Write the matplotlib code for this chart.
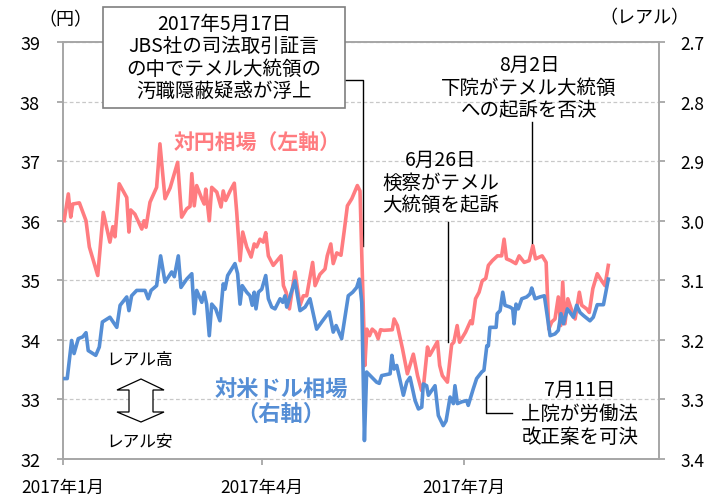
import matplotlib
matplotlib.use("Agg")
import matplotlib.pyplot as plt
from matplotlib.patches import Rectangle, Polygon
from matplotlib.lines import Line2D
import pandas as pd

plt.rcParams['font.family'] = ['Noto Sans CJK JP', 'DejaVu Sans']

# ---------------- data (days since 2017-01-01, values) ----------------
jpy_day = [0.5, 2.4, 3.5, 4.4, 7.4, 10.4, 11.9, 15.7, 18.2, 21.2,
           22.5, 23.5, 25.4, 28.8, 29.8, 30.6, 32.5, 35.6, 36.6, 37.5,
           39.3, 42.3, 43.8, 46.1, 48.4, 51.8, 53.6, 55.9, 57.4, 58.2,
           59.3, 60.4, 62.7, 63.8, 64.5, 66.1, 67.2, 69.5, 71.4, 72.4,
           73.5, 75.5, 77.4, 78.5, 80.0, 81.2, 83.0, 85.0, 86.4, 87.5,
           89.0, 90.5, 91.6, 92.8, 95.0, 98.5, 99.6, 100.8, 102.3, 104.8,
           107.1, 108.6, 110.1, 112.8, 113.9, 116.1, 118.4, 119.4, 121.0, 122.1,
           123.7, 125.6, 127.0, 128.5, 130.5, 133.0, 134.2, 136.4, 137.3, 138.5,
           139.7, 141.2, 142.4, 143.5, 145.0, 148.8, 149.6, 151.1, 153.4, 155.6,
           158.3, 160.2, 162.0, 162.9, 164.7, 165.7, 169.2, 170.2, 171.4, 173.7,
           175.6, 176.6, 178.1, 179.2, 181.9, 184.2, 184.9, 186.4, 188.0, 189.4,
           191.0, 192.2, 194.0, 196.3, 198.2, 199.3, 200.4, 202.3, 204.6, 206.1,
           208.4, 210.6, 212.3, 213.5, 216.5, 218.3, 219.5, 220.8, 222.3, 223.8,
           224.9, 225.8, 226.8, 228.1, 229.9, 231.4, 233.3, 234.4, 236.6, 237.8,
           239.4, 241.4, 243.4, 244.9, 246.4]
jpy_val = [36.00, 36.45, 36.06, 36.28, 36.30, 36.00, 35.56, 35.08, 36.14, 35.64,
           35.90, 35.73, 36.62, 36.39, 35.81, 36.18, 36.11, 35.86, 36.00, 35.89,
           36.31, 36.56, 37.29, 36.37, 36.55, 36.98, 36.06, 36.20, 36.24, 36.79,
           36.25, 36.59, 36.37, 36.28, 36.53, 36.00, 36.56, 36.48, 36.23, 36.50,
           36.34, 36.50, 36.63, 36.14, 35.33, 35.81, 35.56, 35.39, 35.61, 35.56,
           35.69, 35.64, 35.80, 35.41, 35.25, 35.41, 34.91, 34.80, 34.52, 35.14,
           34.58, 34.74, 34.74, 35.30, 34.91, 35.10, 35.19, 35.41, 35.61, 35.28,
           35.46, 35.42, 35.81, 36.25, 36.37, 36.59, 36.50, 33.57, 34.18, 34.07,
           34.18, 34.13, 34.02, 34.17, 34.16, 34.17, 34.35, 34.24, 33.85, 33.43,
           33.76, 33.40, 33.15, 33.23, 33.88, 33.74, 33.97, 33.57, 33.40, 33.29,
           33.92, 33.96, 34.24, 33.96, 34.13, 34.32, 34.27, 34.69, 34.80, 34.99,
           35.03, 35.25, 35.33, 35.41, 35.41, 35.69, 35.36, 35.33, 35.28, 35.41,
           35.30, 35.33, 35.58, 35.36, 35.41, 35.30, 34.18, 34.30, 34.35, 34.72,
           34.24, 34.97, 34.27, 34.69, 34.49, 34.35, 34.80, 34.58, 34.52, 34.46,
           34.86, 35.11, 34.99, 34.91, 35.25]

brl_day = [0.5, 1.9, 3.9, 5.0, 6.9, 8.9, 10.4, 11.4, 14.8, 16.4,
           17.8, 21.2, 24.3, 25.8, 28.8, 29.8, 31.0, 33.3, 37.1, 38.5,
           39.8, 42.3, 44.1, 46.1, 49.1, 50.3, 52.1, 53.3, 55.9, 58.2,
           59.3, 60.4, 62.7, 63.8, 64.9, 66.1, 67.2, 69.0, 70.9, 72.4,
           73.2, 74.4, 76.2, 77.7, 78.9, 80.0, 81.0, 83.0, 84.5, 85.5,
           86.4, 87.2, 88.3, 89.8, 91.6, 92.8, 94.3, 95.8, 98.1, 99.3,
           100.3, 101.1, 102.9, 104.8, 107.1, 109.4, 111.6, 114.6, 116.9, 120.3,
           122.1, 123.4, 125.9, 128.9, 130.9, 132.7, 133.9, 135.0, 136.2, 137.2,
           141.7, 142.9, 144.0, 147.8, 148.6, 149.6, 150.8, 153.8, 155.3, 156.8,
           159.1, 160.6, 162.1, 162.8, 164.3, 165.1, 168.1, 169.6, 171.8, 173.1,
           174.9, 176.4, 177.1, 178.2, 180.2, 182.4, 183.1, 185.4, 186.9, 189.2,
           190.2, 191.5, 192.2, 192.9, 195.7, 196.2, 197.5, 198.7, 199.7, 202.0,
           203.2, 203.8, 204.7, 205.7, 207.3, 209.5, 211.0, 211.8, 213.3, 215.5,
           217.5, 220.1, 222.3, 223.8, 225.0, 226.1, 227.9, 229.1, 230.6, 232.1,
           233.6, 235.1, 238.1, 239.6, 241.4, 244.2, 246.4]
brl_val = [3.265, 3.265, 3.201, 3.223, 3.198, 3.195, 3.188, 3.218, 3.226, 3.212,
           3.170, 3.162, 3.179, 3.142, 3.128, 3.151, 3.126, 3.117, 3.117, 3.131,
           3.117, 3.109, 3.059, 3.103, 3.086, 3.094, 3.059, 3.112, 3.098, 3.089,
           3.156, 3.117, 3.137, 3.120, 3.140, 3.193, 3.140, 3.148, 3.168, 3.106,
           3.115, 3.092, 3.081, 3.072, 3.089, 3.140, 3.109, 3.120, 3.126, 3.142,
           3.120, 3.148, 3.120, 3.115, 3.092, 3.131, 3.145, 3.148, 3.131, 3.137,
           3.126, 3.145, 3.123, 3.101, 3.151, 3.145, 3.131, 3.182, 3.170, 3.153,
           3.187, 3.176, 3.198, 3.126, 3.120, 3.112, 3.098, 3.137, 3.369, 3.254,
           3.271, 3.273, 3.260, 3.257, 3.226, 3.249, 3.243, 3.293, 3.271, 3.263,
           3.302, 3.316, 3.313, 3.274, 3.277, 3.293, 3.277, 3.327, 3.344, 3.336,
           3.296, 3.307, 3.277, 3.307, 3.304, 3.302, 3.310, 3.282, 3.265, 3.254,
           3.251, 3.210, 3.210, 3.179, 3.179, 3.156, 3.151, 3.120, 3.142, 3.145,
           3.148, 3.173, 3.140, 3.148, 3.131, 3.128, 3.123, 3.113, 3.131, 3.128,
           3.126, 3.193, 3.190, 3.184, 3.156, 3.173, 3.148, 3.154, 3.162, 3.142,
           3.154, 3.159, 3.168, 3.162, 3.141, 3.141, 3.098]

xtick_dates = ['2017-01-01', '2017-04-01', '2017-07-01']
xtick_labels = ['2017年1月', '2017年4月', '2017年7月']
left_ticks = [32, 33, 34, 35, 36, 37, 38, 39]
right_ticks = [2.7, 2.8, 2.9, 3.0, 3.1, 3.2, 3.3, 3.4]

# ---------------- style ----------------
RED = '#FF7C80'
BLUE = '#558ED5'
GRAY = '#A6A6A6'
GRID = '#C8C8C8'

W, H = 708, 502
fig = plt.figure(figsize=(W / 100, H / 100), dpi=100)
L, R, T, B = 63, 659, 43, 460
ax = fig.add_axes([L / W, 1 - B / H, (R - L) / W, (B - T) / H])
ax2 = ax.twinx()


def fx(x):
    return x / W


def fy(y):
    return 1 - y / H


base = pd.Timestamp('2017-01-01')
jx = base + pd.to_timedelta(jpy_day, unit='D')
bx = base + pd.to_timedelta(brl_day, unit='D')

ax.plot(jx, jpy_val, color=RED, lw=2.6, solid_joinstyle='round', zorder=3)
ax2.plot(bx, brl_val, color=BLUE, lw=2.6, solid_joinstyle='round', zorder=3)

ax.set_xlim(base, base + pd.Timedelta(days=269.3))
ax.set_ylim(32, 39)
ax2.set_ylim(3.4, 2.7)

ax.set_yticks(left_ticks)
ax.set_yticklabels([str(v) for v in left_ticks])
ax2.set_yticks(right_ticks)
ax2.set_yticklabels([f'{v:.1f}' for v in right_ticks])
ax.set_xticks(pd.to_datetime(xtick_dates))
ax.set_xticklabels(xtick_labels)

ax.yaxis.grid(True, linestyle=(0, (3, 2)), color=GRID, lw=0.9, zorder=0)
ax.set_axisbelow(True)

for s in ['left', 'top', 'bottom']:
    ax.spines[s].set_color(GRAY)
    ax.spines[s].set_linewidth(1.4)
ax.spines['right'].set_visible(False)
for s in ['left', 'top', 'bottom']:
    ax2.spines[s].set_visible(False)
ax2.spines['right'].set_color(GRAY)
ax2.spines['right'].set_linewidth(1.4)

ax.tick_params(axis='y', direction='out', length=4.5, width=1.3, color=GRAY,
               labelsize=13, pad=12)
ax.tick_params(axis='x', direction='out', length=4.5, width=1.3, color=GRAY,
               labelsize=12.5, pad=9)
ax2.tick_params(axis='y', direction='out', length=4.5, width=1.3, color=GRAY,
                labelsize=12.5, pad=11)

# ---------------- annotations ----------------
def day(d):
    return base + pd.Timedelta(days=d)


# connectors (yen axis coordinates)
ax.add_line(Line2D([day(127.4), day(135.7), day(135.7)], [38.36, 38.36, 35.58],
                   color='black', lw=1.0, zorder=2))
ax.add_line(Line2D([day(174.1), day(174.1)], [35.98, 33.96],
                   color='black', lw=1.0, zorder=2))
ax.add_line(Line2D([day(212.1), day(212.1)], [37.66, 35.56],
                   color='black', lw=1.0, zorder=2))
ax.add_line(Line2D([day(191.1), day(191.1), day(202.8)], [33.40, 32.77, 32.77],
                   color='black', lw=1.0, zorder=2))

# box
fig.add_artist(Rectangle((fx(103), fy(109)), (345 - 103) / W, (109 - 8) / H,
                         transform=fig.transFigure, facecolor='white',
                         edgecolor='#7F7F7F', lw=1.2, zorder=5))
fig.text(fx(224), fy(58), '2017年5月17日\nJBS社の司法取引証言\nの中でテメル大統領の\n汚職隠蔽疑惑が浮上',
         ha='center', va='center', fontsize=14, linespacing=1.1, zorder=6)

fig.text(fx(441), fy(183), '6月26日\n検察がテメル\n大統領を起訴',
         ha='center', va='center', fontsize=14, linespacing=1.1)
fig.text(fx(529), fy(88), '8月2日\n下院がテメル大統領\nへの起訴を否決',
         ha='center', va='center', fontsize=14, linespacing=1.1)
fig.text(fx(580), fy(414), '7月11日\n上院が労働法\n改正案を可決',
         ha='center', va='center', fontsize=14, linespacing=1.15)

fig.text(fx(257), fy(143), '対円相場（左軸）', ha='center', va='center',
         fontsize=15, fontweight='bold', color=RED)
fig.text(fx(281), fy(402), '対米ドル相場\n（右軸）', ha='center', va='center',
         fontsize=16, fontweight='bold', color=BLUE, linespacing=1.05)

fig.text(fx(65), fy(20), '（円）', ha='center', va='center', fontsize=13)
fig.text(fx(644), fy(18), '（レアル）', ha='center', va='center', fontsize=13)

fig.text(fx(140), fy(361), 'レアル高', ha='center', va='center', fontsize=12)
fig.text(fx(140), fy(442), 'レアル安', ha='center', va='center', fontsize=12)

arrow_px = [(141, 380), (164, 391), (153, 391), (153, 413), (164, 413),
            (141, 423), (117, 413), (129, 413), (129, 391), (117, 391)]
fig.add_artist(Polygon([(fx(x), fy(y)) for x, y in arrow_px], closed=True,
                       transform=fig.transFigure, facecolor='white',
                       edgecolor='black', lw=0.9, zorder=5))

fig.savefig('out.png', dpi=100)
